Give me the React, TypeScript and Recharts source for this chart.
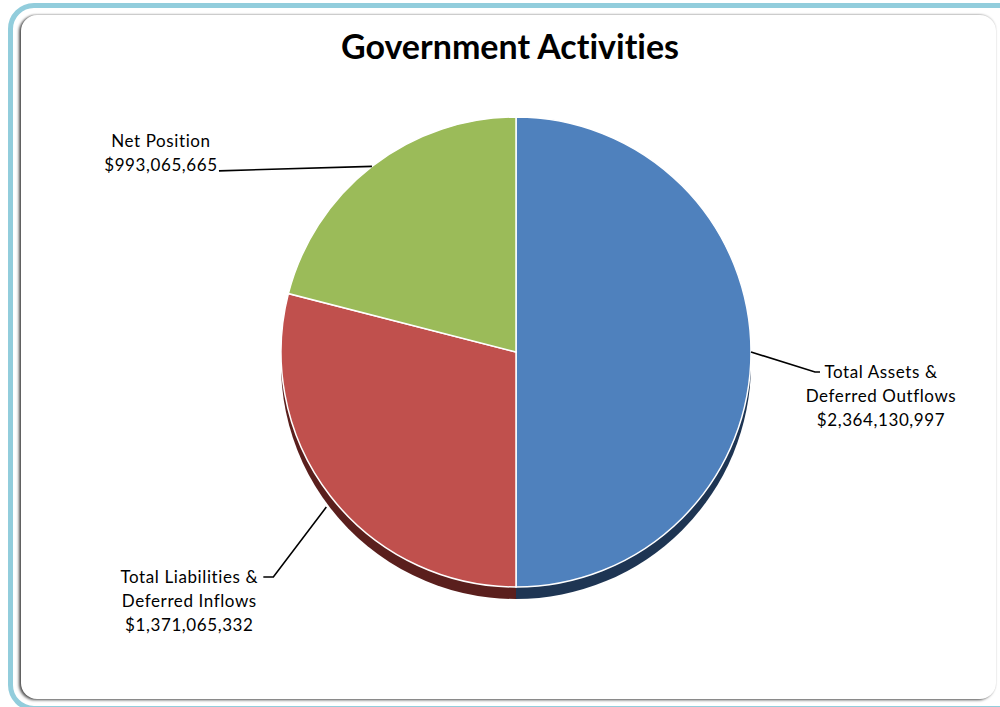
import React from "react";
import { PieChart, Pie, Cell } from "recharts";

const categories = [
  "Total Assets & Deferred Outflows",
  "Total Liabilities & Deferred Inflows",
  "Net Position",
];
const labelLines = [
  ["Total Assets &", "Deferred Outflows"],
  ["Total Liabilities &", "Deferred Inflows"],
  ["Net Position"],
];
const values = [2364130997, 1371065332, 993065665];
const valueLabels = ["$2,364,130,997", "$1,371,065,332", "$993,065,665"];
const colors = ["#4F81BD", "#C0504D", "#9BBB59"];
const shadowColors = ["#1E3553", "#5A1F1D", "#4B5E27"];

const data = categories.map((name, i) => ({ name, value: values[i] }));

const FONT = "Lato, 'Open Sans', sans-serif";

const renderLabel = (props: any) => {
  const { cx, cy, midAngle, outerRadius, index } = props;
  const RAD = Math.PI / 180;
  const ax = cx + outerRadius * Math.cos(-midAngle * RAD);
  const ay = cy + outerRadius * Math.sin(-midAngle * RAD);
  let path = "";
  let tx = 0;
  let baselines: number[] = [];
  if (index === 0) {
    path = `M${ax},${ay} L${ax + 64},${ay + 20} L${ax + 69},${ay + 20}`;
    tx = ax + 130;
    baselines = [ay + 26, ay + 50, ay + 74];
  } else if (index === 1) {
    path = `M${ax - 4},${ay + 11} L${ax - 57},${ay + 81} L${ax - 67},${ay + 81}`;
    tx = ax - 141;
    baselines = [ay + 87, ay + 111, ay + 135];
  } else {
    path = `M${ax},${ay} L${ax - 153},${ay + 4.5}`;
    tx = ax - 211;
    baselines = [ay - 19, ay + 5];
  }
  const lines = [...labelLines[index], valueLabels[index]];
  return (
    <g key={`lbl-${index}`}>
      <path d={path} stroke="#000" strokeWidth={1.6} fill="none" />
      {lines.map((t, j) => (
        <text
          key={j}
          x={tx}
          y={baselines[j]}
          textAnchor="middle"
          fontFamily={FONT}
          fontSize={17}
          letterSpacing={0.6}
          fill="#000"
        >
          {t}
        </text>
      ))}
    </g>
  );
};

export default function App() {
  return (
    <div style={{ position: "fixed", left: 0, top: 0, width: 1000, height: 707, overflow: "hidden", background: "#fff" }}>
      <div
        style={{
          position: "absolute",
          left: 8,
          top: 3,
          width: 1020,
          height: 698,
          border: "5px solid #92CDDC",
          borderRadius: 26,
        }}
      />
      <div
        style={{
          position: "absolute",
          left: 21,
          top: 15,
          width: 975,
          height: 684,
          borderRadius: 16,
          background: "#fff",
          boxShadow: "-2px 1px 3px rgba(0,0,0,0.7), 0 -1px 2px rgba(0,0,0,0.15)",
        }}
      />
      <div
        style={{
          position: "absolute",
          left: 0,
          top: 25,
          width: 1020,
          textAlign: "center",
          fontFamily: FONT,
          fontWeight: 700,
          fontSize: 34,
          fontVariantLigatures: "none",
          color: "#000",
        }}
      >
        Government Activities
      </div>
      <div style={{ position: "absolute", left: 0, top: 0 }}>
        <PieChart width={1000} height={707} margin={{ top: 0, right: 0, bottom: 0, left: 0 }}>
          <Pie
            data={data}
            dataKey="value"
            cx={516}
            cy={364}
            outerRadius={235}
            startAngle={90}
            endAngle={-270}
            stroke="none"
            isAnimationActive={false}
          >
            {data.map((d, i) => (
              <Cell key={i} fill={shadowColors[i]} />
            ))}
          </Pie>
          <Pie
            data={data}
            dataKey="value"
            cx={516}
            cy={352}
            outerRadius={235}
            startAngle={90}
            endAngle={-270}
            stroke="#ffffff"
            strokeWidth={1.5}
            label={renderLabel}
            labelLine={false}
            isAnimationActive={false}
          >
            {data.map((d, i) => (
              <Cell key={i} fill={colors[i]} />
            ))}
          </Pie>
        </PieChart>
      </div>
    </div>
  );
}
